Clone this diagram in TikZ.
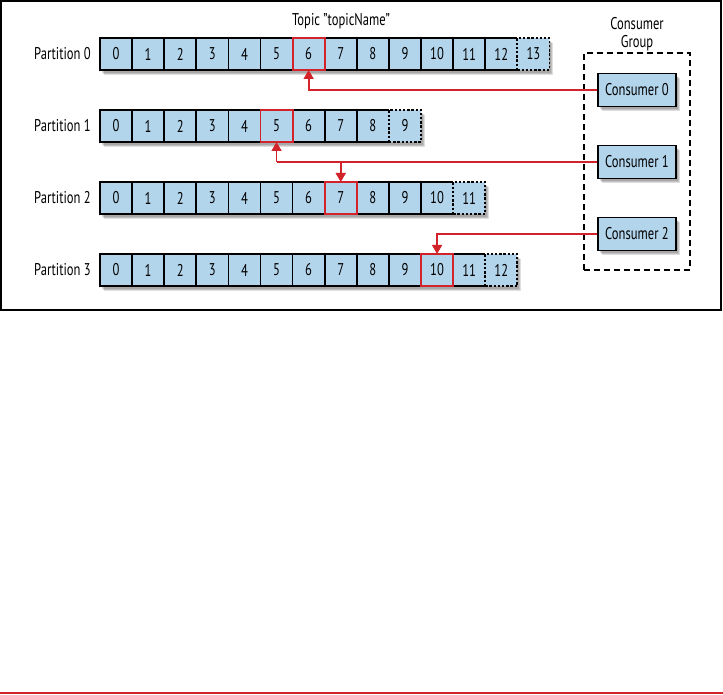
\documentclass[tikz,border=0pt]{standalone}
\usepackage{fontspec}
\setmainfont{PT Sans}[FakeStretch=0.74]
\usetikzlibrary{arrows.meta}
\definecolor{cellblue}{HTML}{B3D5EC}
\definecolor{hired}{HTML}{D2232A}
\begin{document}
\begin{tikzpicture}[x=1pt,y=-1pt,
  txt/.style={font=\fontsize{17}{19}\selectfont, inner sep=0pt},
  cell/.style={txt, fill=cellblue, minimum width=32.1pt, minimum height=32pt, outer sep=0pt},
  cellline/.style={draw=black, line width=1.7pt},
  lastcell/.style={cell, draw=black, line width=1.7pt, dash pattern=on 2.4pt off 1.8pt},
  hicell/.style={draw=hired, line width=1.8pt, minimum width=32.1pt, minimum height=32pt, inner sep=0pt, outer sep=0pt},
  consumer/.style={txt, fill=cellblue, draw=black, line width=1.7pt, minimum width=78pt, minimum height=33pt},
  groupbox/.style={draw=black, line width=1.7pt, dash pattern=on 6pt off 4pt, minimum width=106pt, minimum height=217pt, inner sep=0pt},
  redline/.style={draw=hired, line width=1.7pt},
  redarrow/.style={redline, -{Triangle[width=10pt,length=9pt]}},
  shadowbox/.style={fill=black, opacity=0.13}
]
\useasboundingbox (0,0) rectangle (723,695);
\draw[line width=1.5pt] (1,1) rectangle (721,310);
\draw[hired, line width=1.8pt] (0,693) -- (723,693);

\node[txt] (topic) at (341,21) {Topic "topicName"};
\node[txt, align=center, font=\fontsize{17}{18}\selectfont] (grplabel) at (637,34) {Consumer\\Group};

\foreach \r/\n/\h in {0/14/6,1/10/5,2/12/7,3/13/10} {
  \pgfmathsetmacro\yy{54+72*\r}
  \pgfmathtruncatemacro\last{\n-1}
  \pgfmathtruncatemacro\prev{\n-2}
  \pgfmathsetmacro\xr{100+\n*32.1}
  \foreach \d in {2,3,4} {
    \fill[shadowbox] (100+\d,\yy-16+\d+1) rectangle (\xr+\d,\yy+16+\d+1);
  }
  \node[txt, anchor=east] (lab\r) at (91,\yy) {Partition \r};
  \foreach \i in {0,...,\prev} {
    \node[cell] (p\r-\i) at ({100+(\i+0.5)*32.1},\yy) {\i};
  }
  \node[lastcell] (p\r-\last) at ({100+(\last+0.5)*32.1},\yy) {\last};
  \draw[cellline] (p\r-\last.north west) -- (p\r-0.north west) -- (p\r-0.south west) -- (p\r-\last.south west);
  \foreach \i in {1,...,\prev} {
    \draw[cellline] (p\r-\i.north west) -- (p\r-\i.south west);
  }
  \node[hicell] (h\r) at (p\r-\h) {};
}

\node[groupbox] (grp) at (637,161.5) {};
\foreach \k/\yc in {0/90,1/162,2/234} {
  \foreach \d in {2,3,4} {
    \fill[shadowbox] (598+\d,\yc-16.5+\d+1) rectangle (676+\d,\yc+16.5+\d+1);
  }
  \node[consumer] (c\k) at (637,\yc) {Consumer \k};
}

\draw[redarrow] (c0.west) -| (h0.south);
\draw[redline] (c1.west) -- (h1.south |- c1.west);
\draw[redarrow] (h1.south |- c1.west) -- (h1.south);
\draw[redarrow] (h2.north |- c1.west) -- (h2.north);
\draw[redarrow] (c2.west) -| (h3.north);
\end{tikzpicture}
\end{document}
